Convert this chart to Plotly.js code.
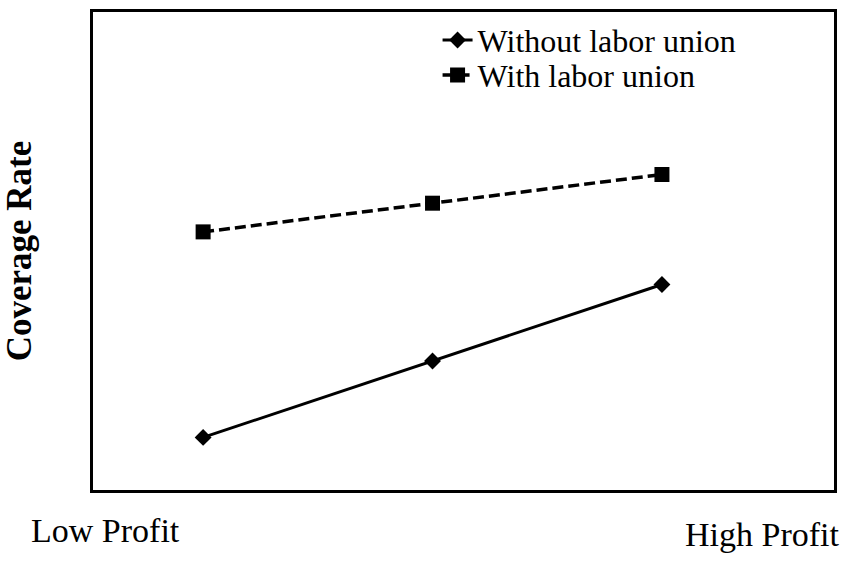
<!DOCTYPE html>
<html>
<head>
<meta charset="utf-8">
<script src="https://cdn.plot.ly/plotly-3.0.1.min.js"></script>
<style>body{margin:0;background:#fff}</style>
</head>
<body>
<div id="chart" style="width:851px;height:563px"></div>
<script>
// profit level positions (low -> high)
var profitLevels = [1, 2, 3];
var withoutUnion = [0.11, 0.27, 0.43];
var withUnion = [0.54, 0.60, 0.66];
var seriesNames = ['Without labor union', 'With labor union'];
var endLabels = ['Low Profit', 'High Profit'];

var serif = 'Liberation Serif';

var without_trace = {
  x: profitLevels,
  y: withoutUnion,
  name: seriesNames[0],
  legend: 'legend',
  mode: 'lines+markers',
  line: {color: '#000', width: 3},
  marker: {symbol: 'diamond', size: 13, color: '#000'}
};

var with_trace = {
  x: profitLevels,
  y: withUnion,
  name: seriesNames[1],
  legend: 'legend2',
  mode: 'lines+markers',
  line: {color: '#000', width: 3.5, dash: '11px,5px'},
  marker: {symbol: 'square', size: 15, color: '#000'}
};

var legendFont = {family: serif, size: 32, color: '#000'};

var layout = {
  width: 851,
  height: 563,
  margin: {l: 93, r: 17, t: 12, b: 73},
  font: {family: serif, size: 32, color: '#000'},
  paper_bgcolor: '#fff',
  plot_bgcolor: '#fff',
  showlegend: true,
  legend: {
    x: 0.465, y: 0.941, xanchor: 'left', yanchor: 'middle',
    font: legendFont, bgcolor: 'rgba(0,0,0,0)'
  },
  legend2: {
    x: 0.465, y: 0.868, xanchor: 'left', yanchor: 'middle',
    font: legendFont, bgcolor: 'rgba(0,0,0,0)'
  },
  xaxis: {
    range: [0.52, 3.75],
    showgrid: false, zeroline: false, showticklabels: false, ticks: '',
    showline: true, mirror: true, linecolor: '#000', linewidth: 3
  },
  yaxis: {
    range: [0, 1],
    showgrid: false, zeroline: false, showticklabels: false, ticks: '',
    showline: true, mirror: true, linecolor: '#000', linewidth: 3,
    title: {text: '<b>Coverage Rate</b>', font: {family: serif, size: 35, color: '#000'}, standoff: 52}
  },
  annotations: [
    {text: endLabels[0], xref: 'paper', yref: 'paper', x: 0.0175, y: -0.084,
     xanchor: 'center', yanchor: 'middle', showarrow: false,
     font: {family: serif, size: 34, color: '#000'}},
    {text: endLabels[1], xref: 'paper', yref: 'paper', x: 0.903, y: -0.094,
     xanchor: 'center', yanchor: 'middle', showarrow: false,
     font: {family: serif, size: 34, color: '#000'}}
  ]
};

Plotly.newPlot('chart', [without_trace, with_trace], layout, {displayModeBar: false});
</script>
</body>
</html>
